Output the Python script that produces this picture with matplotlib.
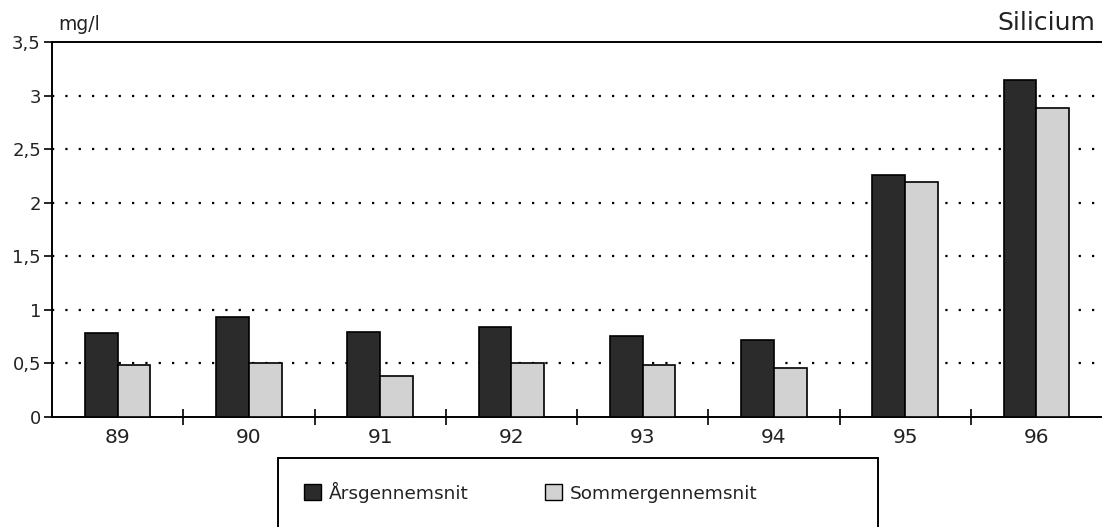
import numpy as np
import matplotlib.pyplot as plt
from matplotlib.patches import Patch, Rectangle

years = ['89', '90', '91', '92', '93', '94', '95', '96']
aars = [0.78, 0.93, 0.79, 0.84, 0.76, 0.72, 2.26, 3.15]
sommer = [0.49, 0.50, 0.38, 0.50, 0.49, 0.46, 2.19, 2.88]
yticks = [0, 0.5, 1, 1.5, 2, 2.5, 3, 3.5]
ylabels = ['0', '0,5', '1', '1,5', '2', '2,5', '3', '3,5']

dark = '#2b2b2b'
light = '#d2d2d2'
txt = '#222222'

plt.rcParams['font.family'] = ['DejaVu Sans']

fig = plt.figure(figsize=(11.02, 5.27), dpi=100)
ax = fig.add_axes([52 / 1102, 1 - 417 / 527, 1 - 52 / 1102, (417 - 42) / 527])

x = np.arange(len(years))
w = 0.25
ax.bar(x - w / 2, aars, w, color=dark, edgecolor='black', linewidth=1.2, zorder=3)
ax.bar(x + w / 2, sommer, w, color=light, edgecolor='black', linewidth=1.2, zorder=3)

for v in yticks[1:-1]:
    ax.axhline(v, color='black', linewidth=1.6, linestyle=(0, (1, 5)), zorder=1)

ax.set_xlim(-0.5, len(years) - 0.5)
ax.set_ylim(0, 3.5)
ax.set_yticks(yticks)
ax.set_yticklabels(ylabels, fontsize=13, color=txt)
ax.set_xticks(x)
ax.set_xticklabels(years, fontsize=14.5, color=txt)
ax.set_xticks(x[:-1] + 0.5, minor=True)
ax.tick_params(axis='x', which='major', length=0, pad=8)
ax.tick_params(axis='x', which='minor', direction='inout', length=11, width=1.2)
ax.tick_params(axis='y', direction='out', length=6, width=1.2, pad=2)

for s in ['left', 'top', 'bottom']:
    ax.spines[s].set_linewidth(1.4)
ax.spines['right'].set_visible(False)

fig.text(58 / 1102, 1 - 30 / 527, 'mg/l', fontsize=13.5, color=txt, ha='left', va='baseline')
fig.text(1095 / 1102, 1 - 30 / 527, 'Silicium', fontsize=18, color=txt, ha='right', va='baseline')

fig.patches.append(Rectangle((278 / 1102, -0.05), 600 / 1102, 0.05 + (527 - 458) / 527,
                             transform=fig.transFigure, facecolor='white',
                             edgecolor='black', linewidth=1.4))
handles = [Patch(facecolor=dark, edgecolor='black', label='Årsgennemsnit'),
           Patch(facecolor=light, edgecolor='black', label='Sommergennemsnit')]
leg = fig.legend(handles=handles, loc='center', bbox_to_anchor=(531 / 1102, 1 - 492 / 527),
                 ncol=2, frameon=False, fontsize=13.3, handlelength=0.92, handleheight=0.92,
                 handletextpad=0.45, columnspacing=4.1)
for t in leg.get_texts():
    t.set_color(txt)

fig.savefig('out.png', dpi=100)
